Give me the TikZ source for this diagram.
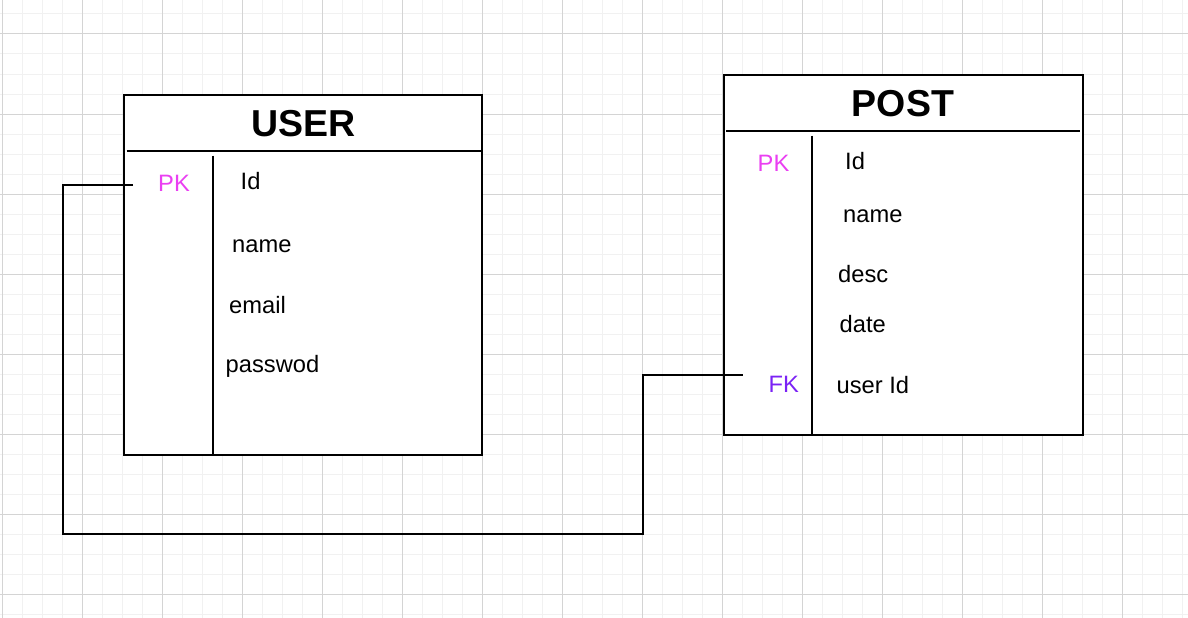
\documentclass[tikz,border=0pt]{standalone}
\usepackage{fontspec}
\setmainfont{Liberation Sans}
\definecolor{pkcol}{HTML}{EA3FF2}
\definecolor{fkcol}{HTML}{7B22F5}
\definecolor{minorgrid}{HTML}{F1F1F1}
\definecolor{majorgrid}{HTML}{D4D4D4}
\tikzset{
  entity/.style={draw, line width=2pt, inner sep=0pt, outer sep=0pt, anchor=north west, fill=white},
  sepline/.style={line width=2pt},
  conn/.style={line width=2pt},
  field/.style={anchor=base west, inner sep=0pt, font=\fontsize{23.7}{28}\selectfont},
  pk/.style={field, text=pkcol},
  fk/.style={field, text=fkcol},
  title/.style={anchor=base, inner sep=0pt, font=\fontsize{37.5}{44}\selectfont\bfseries},
}
\begin{document}
\begin{tikzpicture}[x=1pt,y=-1pt]
\useasboundingbox (0,0) rectangle (1188,618);
\fill[white] (0,0) rectangle (1188,618);
% grid
\foreach \x in {2,22,...,1188} \draw[minorgrid, line width=1pt] (\x,0) -- (\x,618);
\foreach \y in {14,34,...,618} \draw[minorgrid, line width=1pt] (0,\y) -- (1188,\y);
\foreach \x in {2,82,...,1188} \draw[majorgrid, line width=1pt] (\x,0) -- (\x,618);
\foreach \y in {34,114,...,618} \draw[majorgrid, line width=1pt] (0,\y) -- (1188,\y);
% USER entity
\node[entity, minimum width=358.5pt, minimum height=360pt] (user) at (123.5,95) {};
\draw[sepline] (126.5,151) -- (481,151);
\draw[sepline] (213,155.5) -- (213,455);
\node[title] (usertitle) at (303.5,136) {USER};
\node[pk] (userpk) at (158,191.5) {PK};
\node[field] (userid) at (240.5,189) {Id};
\node[field] (username) at (232,252) {name};
\node[field] (useremail) at (229,313) {email};
\node[field] (userpass) at (225.5,372) {passwod};
% POST entity
\node[entity, minimum width=359pt, minimum height=359.5pt] (post) at (723.5,75) {};
\draw[sepline] (726,131) -- (1080,131);
\draw[sepline] (812,135.5) -- (812,434.5);
\node[title] (posttitle) at (903,116.5) {POST};
\node[pk] (postpk) at (757.5,171.5) {PK};
\node[field] (postid) at (845,169) {Id};
\node[field] (postname) at (843,222) {name};
\node[field] (postdesc) at (838,282) {desc};
\node[field] (postdate) at (839.5,332) {date};
\node[fk] (postfk) at (768.5,392.5) {FK};
\node[field] (postuid) at (836.5,393) {user Id};
% connector
\coordinate (cu) at (133,185);
\coordinate (cp) at (743,374.5);
\draw[conn] (cu) -- (63,185) -- (63,534) -- (643,534) -- (643,374.5) -- (cp);
\end{tikzpicture}
\end{document}
